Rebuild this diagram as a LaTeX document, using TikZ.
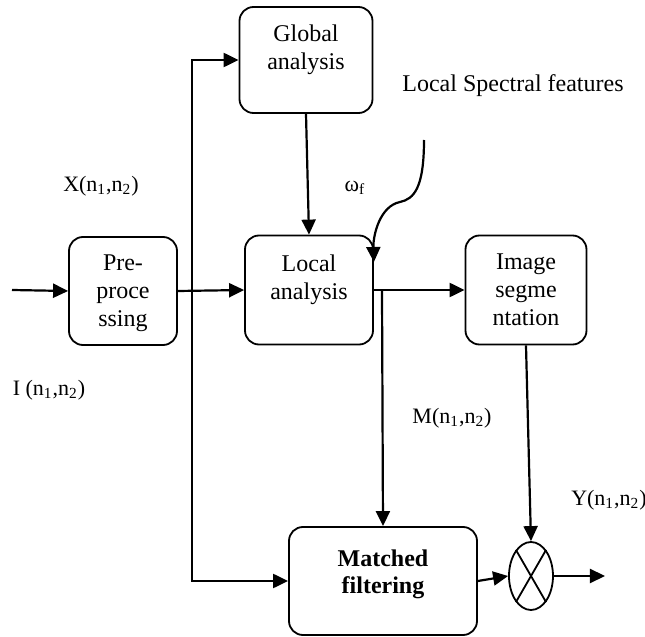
\documentclass[tikz,border=0pt]{standalone}
\usepackage{fontspec}
\setmainfont{Liberation Serif}
\usetikzlibrary{positioning,calc,arrows.meta,shapes.geometric}

\tikzset{
  block/.style={draw, line width=0.9pt, rounded corners=7pt, align=center,
    font=\fontsize{12}{14}\selectfont, inner sep=1pt},
  arr/.style={line width=1.1pt, -{Triangle[length=7.5pt,width=7pt]}},
  lbl/.style={font=\fontsize{11}{13}\selectfont, inner sep=0pt},
}

\begin{document}
\begin{tikzpicture}[x={(0.5pt,0pt)}, y={(0pt,-0.5pt)}]
  \useasboundingbox (0,0) rectangle (645,637);

  % % Blocks
  \node[block, minimum width=54pt, minimum height=54pt, text depth=0pt] (pre) at (123,291) {Pre-\\proce\\ssing};
  \node[block, minimum width=66.5pt, minimum height=53pt, text depth=13pt] (global) at (306,60) {Global\\analysis};
  \node[block, minimum width=64pt, minimum height=54.5pt, text depth=13pt] (local) at (309,290) {Local\\analysis};
  \node[block, minimum width=60.5pt, minimum height=54.5pt, text depth=0pt] (image) at (526,290) {Image\\segme\\ntation};
  \node[block, minimum width=94pt, minimum height=54pt, text depth=9pt, font=\fontsize{12}{13.5}\selectfont\bfseries] (matched) at (383,581) {Matched\\filtering};
  \node[draw, line width=0.9pt, ellipse, inner sep=0pt, minimum width=22pt, minimum height=34pt] (mult) at (531,576) {};
  \draw[line width=0.9pt] (mult.120) -- (mult.300);
  \draw[line width=0.9pt] (mult.60) -- (mult.240);

  % % Labels
  \node[lbl] (xlab) at (101,186) {X(n\textsubscript{1},n\textsubscript{2})};
  \node[lbl] (ilab) at (49,390) {I (n\textsubscript{1},n\textsubscript{2})};
  \node[lbl] (mlab) at (452,418) {M(n\textsubscript{1},n\textsubscript{2})};
  \node[lbl] (ylab) at (609,500) {Y(n\textsubscript{1},n\textsubscript{2})};
  \node[lbl] (wlab) at (355,188) {ω\textsubscript{f}};
  \node[lbl, font=\fontsize{12}{14}\selectfont] (lsf) at (513,86) {Local Spectral features};

  % % Connectors
  \coordinate (in) at (12,290);
  \coordinate (tap) at (192,291);
  \coordinate (mtap) at (382,291);
  \coordinate (featin) at (424,140);
  \coordinate (out) at (605,576);

  \draw[arr] (in) -- (pre.west);
  \draw[arr] (pre.east) -- (local.west);
  \draw[arr] (tap) |- (global.west);
  \draw[arr] (tap) |- (matched.west);
  \draw[arr] (global.south) -- (local.north);
  \draw[arr] (featin) .. controls (424,188) and (414,199) .. (400,202)
    .. controls (380,206) and (373,235) .. ($(local.east)+(0,-28)$);
  \draw[arr] (local.east) -- (image.west);
  \draw[arr] (mtap) -- (matched.north);
  \draw[arr] (image.south) -- (mult.north);
  \draw[arr] (matched.east) -- (mult.west);
  \draw[arr] (mult.east) -- (out);
\end{tikzpicture}
\end{document}
